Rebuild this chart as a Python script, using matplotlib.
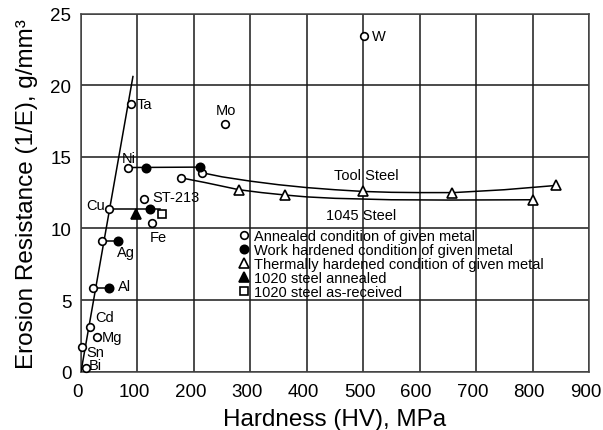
import matplotlib
matplotlib.use("Agg")
import matplotlib.pyplot as plt
from matplotlib.lines import Line2D
from matplotlib.transforms import ScaledTranslation

plt.rcParams['font.family'] = ['Liberation Sans', 'DejaVu Sans']

# ---------------- data ----------------
annealed_names = ['W', 'Ta', 'Mo', 'Ni', 'ST-213', 'Cu', 'Fe', 'Ag', 'Al', 'Cd', 'Mg', 'Sn', 'Bi', '', '']
annealed_x = [501, 88, 256, 84, 112, 50, 125, 37, 22, 16, 29, 1.5, 9, 177, 215]
annealed_y = [23.45, 18.7, 17.3, 14.22, 12.08, 11.35, 10.4, 9.1, 5.85, 3.15, 2.45, 1.75, 0.25, 13.53, 13.88]

work_x = [211, 116, 123, 66, 49]
work_y = [14.3, 14.22, 11.39, 9.1, 5.85]

thermal_x = [280, 362, 500, 658, 842, 801]
thermal_y = [12.7, 12.33, 12.6, 12.5, 13.0, 12.0]

steel1020_ann_x = [98]
steel1020_ann_y = [11.0]
steel1020_rec_x = [144]
steel1020_rec_y = [11.03]

# connecting lines
trend_x = [0, 92]
trend_y = [0, 20.6]
ni_row_x = [84, 211]
ni_row_y = [14.25, 14.28]
cu_row_x = [50, 140]
cu_row_y = [11.35, 11.35]
ag_row_x = [37, 66]
ag_row_y = [9.1, 9.1]
al_row_x = [22, 49]
al_row_y = [5.85, 5.85]

tool_x = [215, 250, 300, 350, 400, 450, 500, 550, 600, 660, 750, 842]
tool_y = [13.88, 13.6, 13.3, 13.05, 12.85, 12.7, 12.58, 12.52, 12.5, 12.5, 12.7, 13.0]
s1045_x = [177, 220, 280, 320, 362, 400, 450, 500, 550, 650, 801]
s1045_y = [13.53, 13.2, 12.7, 12.5, 12.33, 12.2, 12.1, 12.05, 12.0, 11.98, 12.0]

x_ticks = [0, 100, 200, 300, 400, 500, 600, 700, 800, 900]
y_ticks = [0, 5, 10, 15, 20, 25]

legend_labels = ['Annealed condition of given metal',
                 'Work hardened condition of given metal',
                 'Thermally hardened condition of given metal',
                 '1020 steel annealed',
                 '1020 steel as-received']

# label placement (offsets in points) for annealed names
label_offsets = {
    'W': (6, 0, 'left', 'center'),
    'Ta': (4, 0, 'left', 'center'),
    'Mo': (0, 10, 'center', 'center'),
    'Ni': (0, 7.5, 'center', 'center'),
    'ST-213': (6, 1, 'left', 'center'),
    'Cu': (-3, 3, 'right', 'center'),
    'Fe': (5, -5, 'center', 'top'),
    'Ag': (17, -8, 'center', 'center'),
    'Al': (18, 1, 'left', 'center'),
    'Cd': (4, 2, 'left', 'bottom'),
    'Mg': (3, 0, 'left', 'center'),
    'Sn': (3, -4, 'left', 'center'),
    'Bi': (2, 2, 'left', 'center'),
}

# ---------------- figure ----------------
fig = plt.figure(figsize=(6.03, 4.31), dpi=100)
ax = fig.add_axes([81 / 603, (431 - 372.7) / 431, (589 - 81) / 603, (372.7 - 14.5) / 431])

ax.set_xlim(0, 900)
ax.set_ylim(0, 25)
ax.set_xticks(x_ticks)
ax.set_yticks(y_ticks)
ax.grid(True, color='#1a1a1a', linewidth=1.1)
ax.set_axisbelow(True)
ax.tick_params(length=0, labelsize=13.5, pad=7)
ax.tick_params(axis='x', pad=8)
shift = ScaledTranslation(-3.5 / 100, 0, fig.dpi_scale_trans)
for lab in ax.get_xticklabels():
    lab.set_transform(lab.get_transform() + shift)
for sp in ax.spines.values():
    sp.set_color('#444444')
    sp.set_linewidth(1.1)

lw = 1.1
ax.plot(trend_x, trend_y, color='black', lw=lw, zorder=3)
for xs, ys in [(ni_row_x, ni_row_y), (cu_row_x, cu_row_y), (ag_row_x, ag_row_y), (al_row_x, al_row_y)]:
    ax.plot(xs, ys, color='black', lw=lw, zorder=3)
ax.plot(tool_x, tool_y, color='black', lw=lw, zorder=3)
ax.plot(s1045_x, s1045_y, color='black', lw=lw, zorder=3)

ms = 5.5
mew = 1.2
ax.plot(annealed_x, annealed_y, 'o', ms=ms, mfc='white', mec='black', mew=mew, zorder=5, clip_on=False)
ax.plot(work_x, work_y, 'o', ms=ms + 0.5, mfc='black', mec='black', mew=mew, zorder=5)
ax.plot(thermal_x, thermal_y, '^', ms=7, mfc='white', mec='black', mew=mew, zorder=5)
ax.plot(steel1020_ann_x, steel1020_ann_y, '^', ms=7, mfc='black', mec='black', mew=mew, zorder=5)
ax.plot(steel1020_rec_x, steel1020_rec_y, 's', ms=6, mfc='white', mec='black', mew=mew, zorder=5)

fs = 10.5
for name, x, y in zip(annealed_names, annealed_x, annealed_y):
    if not name:
        continue
    dx, dy, ha, va = label_offsets[name]
    ax.annotate(name, (x, y), xytext=(dx, dy), textcoords='offset points',
                ha=ha, va=va, fontsize=fs, zorder=6)

ax.text(506, 13.75, 'Tool Steel', ha='center', va='center', fontsize=fs, zorder=6)
ax.text(497, 10.95, '1045 Steel', ha='center', va='center', fontsize=fs, zorder=6)

handles = [
    Line2D([], [], ls='none', marker='o', ms=ms, mfc='white', mec='black', mew=mew),
    Line2D([], [], ls='none', marker='o', ms=ms + 0.5, mfc='black', mec='black', mew=mew),
    Line2D([], [], ls='none', marker='^', ms=7, mfc='white', mec='black', mew=mew),
    Line2D([], [], ls='none', marker='^', ms=7, mfc='black', mec='black', mew=mew),
    Line2D([], [], ls='none', marker='s', ms=6, mfc='white', mec='black', mew=mew),
]
ax.legend(handles, legend_labels, loc='upper left', bbox_to_anchor=(0.307, 0.397),
          frameon=False, fontsize=fs, handlelength=0.9, handletextpad=0.25,
          labelspacing=0.0, borderpad=0, borderaxespad=0)

ax.set_xlabel('Hardness (HV), MPa', fontsize=17.5, labelpad=6)
ax.set_ylabel('Erosion Resistance (1/E), g/mm³', fontsize=17.5, labelpad=9)

fig.savefig('out.png', dpi=100)
